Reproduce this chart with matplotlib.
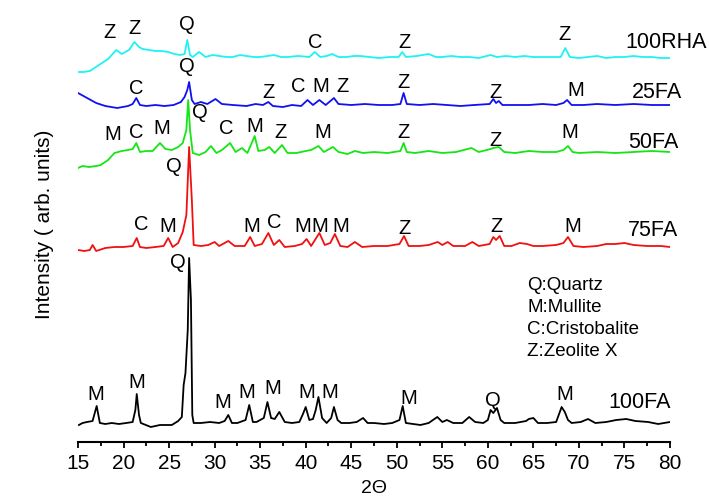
import matplotlib
matplotlib.use("Agg")
import matplotlib.pyplot as plt
from matplotlib.ticker import MultipleLocator

plt.rcParams['font.family'] = ['Liberation Sans', 'DejaVu Sans']

# ---- data (2theta, intensity above each baseline) ----
tt_rha = [15, 15.6, 16.3, 17.3, 18.3, 19.2, 19.8, 20.6, 21.2, 21.7, 22.1, 22.8, 23.5, 24.2,
          24.9, 25.6, 26.2, 26.7, 27.0, 27.3, 27.6, 28.3, 29.0, 29.8, 30.5, 31.3, 32, 32.8,
          33.5, 34.3, 35, 35.8, 36.5, 37.3, 38, 39.2, 40.4, 41.0, 41.6, 42.3, 42.9, 43.6,
          44.5, 45.3, 46, 47, 48, 49.2, 50.2, 50.6, 51.0, 52.2, 53.5, 54.3, 55, 56, 57, 58,
          59, 60.3, 61, 62, 63, 64, 65, 66, 67.2, 68.0, 68.5, 69.0, 70, 71, 72, 73, 74, 75,
          76, 77, 78, 79, 80]
I_rha = [-15, -15, -14, -8, -2, 7, 3, 7, 15, 10, 8, 7, 6, 6,
         5, 3, 2, 3, 17, 2, 0, 5, 0, 2, 1, 0, 0, 2,
         1, 0, 0, 1, 2, 0, 0, 1, 0, 5, 0, 1, 3, 0,
         0, 1, 1, 0, -1, 0, 0, 5, 0, 1, 3, 0, 0, 1, 0, 0,
         -1, 2, 0, 1, 0, 1, 0, 0, 0, 0, 9, 0, -1, 0, 1, -1, 0, 0,
         1, 0, 0, -1, -1]

tt_25 = [15, 16, 17, 18, 19.3, 20.5, 21.0, 21.4, 21.8, 22.5, 23.5, 24.5, 25.5, 26.3, 26.7,
         27.0, 27.2, 27.5, 27.8, 28.5, 29.2, 30.1, 30.8, 32, 33.5, 34.5, 35.3, 35.9, 36.4,
         37.5, 38.5, 39.5, 40.2, 40.8, 41.5, 42.2, 43.1, 43.6, 45, 46.5, 48, 49.5, 50.4,
         50.75, 51.1, 52.5, 54, 55.5, 57, 58.5, 60.2, 60.6, 60.9, 61.2, 61.6, 63, 64.5,
         66, 67.5, 68.3, 68.7, 69.2, 70.5, 72, 74, 76, 78, 80]
I_25 = [12, 7, 2, -1, -3, -1, 1, 7, 0, -1, 0, -1, 0, 3, 8,
        15, 23, 5, 1, 3, 1, 6, 1, 0, -1, 1, 0, 3, -1,
        -2, 0, -1, 5, 0, 5, 0, 7, 1, 0, 1, 0, 0, 1,
        12, 1, 0, 1, 0, -1, 0, 1, 6, 2, 4, 0, 0, 0,
        1, 0, 2, 5, 0, 0, 1, 0, 1, 0, 0]

tt_50 = [15, 15.5, 16.2, 17.0, 17.5, 18.3, 19, 19.8, 20.5, 21.0, 21.4, 21.8, 22.5, 23.2,
         24.0, 24.6, 25.3, 26.0, 26.5, 26.9, 27.1, 27.3, 27.6, 28.3, 29.0, 29.6, 30.2,
         30.8, 31.7, 32.3, 33.0, 33.6, 34.4, 34.8, 35.5, 36.0, 36.6, 37.4, 38.0, 39, 40,
         40.6, 41.4, 42.0, 43.0, 43.6, 44.6, 45.4, 46.3, 47.5, 49, 50.4, 50.75, 51.1, 52,
         53.5, 55, 56.5, 58.2, 59, 60.3, 60.6, 61.2, 61.8, 63, 64.5, 66, 67.5, 68.3, 68.8,
         69.3, 70, 72, 74, 76, 78, 80]
I_50 = [-16, -14, -15, -14, -13, -8, -1, 1, 2, 3, 9, 0, 1, 1,
        9, 3, 2, 5, 9, 22, 52, 22, -1, -3, 0, 6, -1,
        2, 9, 0, 4, -1, 16, 1, 2, 5, -1, 7, -1, -1, 1,
        2, 6, 0, 5, 0, -2, 1, -1, 0, -1, 1, 9, 0, -1,
        1, -1, 0, 4, 0, 3, 4, 5, 0, -1, 1, 0, 0, 2, 6,
        0, -1, 0, -1, 0, 1, 0]

tt_75 = [15, 15.7, 16.3, 16.6, 17.0, 18, 19, 20, 21.0, 21.45, 21.8, 22.5, 23.5, 24.4, 24.9,
         25.4, 26.0, 26.5, 26.9, 27.2, 27.5, 27.7, 28.5, 29.3, 30.0, 30.5, 31.5, 32.2, 33.3,
         33.9, 34.4, 35.2, 35.9, 36.5, 37.1, 37.7, 38.8, 39.6, 40.1, 40.6, 41.5, 42.1, 42.7,
         43.2, 43.8, 44.6, 45.4, 46.2, 47.5, 49, 50.3, 50.8, 51.3, 52.5, 53.5, 54.5, 55.0,
         55.6, 56.2, 57.5, 58.3, 59.0, 60.2, 60.6, 60.9, 61.3, 61.8, 62.6, 63.5, 64.3, 65,
         66, 67.5, 68.3, 68.8, 69.4, 70.5, 72, 73, 74, 75, 76, 77.5, 79, 80]
I_75 = [-4, -5, -4, 1, -5, -2, -1, -1, 0, 8, -1, -2, -1, 0, 8,
        -1, 3, 14, 31, 99, 46, 1, 0, 1, 4, 0, 5, 0, 0,
        9, 0, 2, 13, 1, 6, -1, 0, 2, 7, 0, 13, 1, 3,
        12, 0, -1, 4, -1, 0, 0, 2, 10, 0, 0, 1, 4, 1,
        4, 0, 0, 4, 0, 2, 9, 6, 10, 0, 0, 3, 2, 0,
        0, 1, 3, 9, 0, -1, 0, 2, 2, 3, 1, 0, 0, -1]

tt_100 = [15.1, 15.5, 16.0, 16.6, 17.05, 17.4, 18.0, 18.7, 19.5, 20.3, 21.0, 21.3, 21.45,
          21.7, 21.9, 23.0, 24.0, 25.3, 26.0, 26.4, 26.6, 26.8, 27.05, 27.2, 27.4, 27.55,
          27.7, 28.5, 29.5, 30.5, 31.1, 31.5, 31.9, 32.5, 33.4, 33.8, 34.2, 34.6, 35.4,
          35.8, 36.2, 36.6, 37.1, 37.7, 38.5, 39.3, 39.7, 40.0, 40.4, 40.8, 41.1, 41.4,
          41.8, 42.3, 42.8, 43.1, 43.5, 43.9, 44.8, 45.6, 46.3, 46.8, 47.5, 48.6, 49.5,
          50.3, 50.65, 51.0, 51.8, 52.6, 53.5, 54.45, 55.0, 55.5, 56.2, 57.2, 57.95, 58.6,
          59.5, 60.0, 60.3, 60.6, 61.0, 61.4, 61.8, 63.0, 64.2, 64.5, 65.0, 65.5, 66.5,
          67.5, 68.1, 68.45, 68.8, 69.2, 70.2, 71.0, 71.8, 73.0, 74.1, 75.2, 76.2, 77.6,
          78.7, 80]
I_100 = [-2, 0, 1, 2, 17, 0, -1, 0, -1, 0, 1, 13, 29,
         8, 0, -4, -2, -2, 2, 6, 38, 50, 93, 165, 123, 8,
         0, 0, 1, 0, 2, 8, 0, 0, 3, 18, 1, 1, 5,
         21, 5, 4, 11, 1, 0, 1, 9, 16, 3, 4, 13, 26,
         5, 0, 5, 16, 3, 0, 0, 1, 5, 0, 0, -1, 0,
         3, 17, 0, -1, -2, 0, 6, 1, 3, 0, 0, 6, 1,
         0, 3, 13, 10, 15, 3, 0, 0, 2, 4, 5, 0, 0,
         1, 16, 11, 3, 0, 1, 4, 0, 1, 3, 4, 2, 1,
         -1, 1]

samples = ['100RHA', '25FA', '50FA', '75FA', '100FA']
series = [(tt_rha, I_rha), (tt_25, I_25), (tt_50, I_50), (tt_75, I_75), (tt_100, I_100)]

# phase labels per pattern: (2theta, height, letter)
peak_labels = {
    '100RHA': [(18.5, 410, 'Z'), (21.2, 414, 'Z'), (27.0, 417, 'Q'), (41.0, 400, 'C'),
               (50.8, 400, 'Z'), (68.4, 407, 'Z')],
    '25FA': [(27.0, 375, 'Q'), (21.4, 354, 'C'), (35.9, 350, 'Z'), (39.2, 355, 'C'),
             (41.7, 355, 'M'), (44.0, 355, 'Z'), (50.75, 360, 'Z'), (60.8, 350, 'Z'),
             (69.7, 352, 'M')],
    '50FA': [(18.8, 307, 'M'), (21.4, 310, 'C'), (24.2, 313, 'M'), (28.4, 329, 'Q'),
             (31.25, 314, 'C'), (34.4, 315, 'M'), (37.2, 309, 'Z'), (41.9, 310, 'M'),
             (50.75, 309, 'Z'), (60.8, 302, 'Z'), (69.0, 309, 'M')],
    '75FA': [(21.9, 217, 'C'), (24.8, 215, 'M'), (25.5, 275, 'Q'), (34.1, 215, 'M'),
             (36.6, 220, 'C'), (39.7, 215, 'M'), (41.5, 215, 'M'), (43.9, 215, 'M'),
             (50.8, 214, 'Z'), (60.9, 215, 'Z'), (69.3, 216, 'M')],
    '100FA': [(26.0, 179, 'Q'), (17.0, 47, 'M'), (21.45, 59, 'M'), (30.9, 40, 'M'),
              (33.5, 49, 'M'), (36.4, 54, 'M'), (40.1, 50, 'M'), (42.6, 50, 'M'),
              (51.3, 44, 'M'), (60.6, 42, 'Q'), (68.4, 47, 'M')],
}
legend_lines = ['Q:Quartz', 'M:Mullite', 'C:Cristobalite', 'Z:Zeolite X']

# ---- layout / style ----
offsets = [385, 337, 290, 196, 19]
colors = ['#1ef2f2', '#1010f0', '#14e614', '#f01010', 'black']
name_pos = [(75.05, 399), (75.8, 349), (75.4, 299), (75.4, 212), (73.2, 39)]

fig = plt.figure(figsize=(7.09, 5.04), dpi=100)
ax = fig.add_axes([78 / 709, 62 / 504, 592 / 709, 442 / 504])

for name, (tt, inten), off, col, (nx, ny) in zip(samples, series, offsets, colors, name_pos):
    ax.plot(tt, [v + off for v in inten], color=col, lw=1.3)
    for x, y, s in peak_labels[name]:
        ax.text(x, y, s, ha='center', va='center', fontsize=14.5)
    ax.text(nx, ny, name, ha='left', va='center', fontsize=15.5)

for i, s in enumerate(legend_lines):
    ax.text(64.3, 157 - i * 22.3, s, ha='left', va='center', fontsize=13.5)

ax.set_xlim(15, 80)
ax.set_ylim(0, 442)
ax.xaxis.set_major_locator(MultipleLocator(5))
ax.xaxis.set_minor_locator(MultipleLocator(2.5))
ax.tick_params(axis='x', which='major', direction='out', length=4.5, width=1.3,
               labelsize=15, pad=4)
ax.tick_params(axis='x', which='minor', direction='out', length=3, width=1.3)
ax.set_yticks([])
for side in ['left', 'top', 'right']:
    ax.spines[side].set_visible(False)
ax.spines['bottom'].set_linewidth(1.5)
ax.set_xlabel('2\u0398', fontsize=14, labelpad=5)
fig.text(45 / 709, 1 - 224 / 504, 'Intensity ( arb. units)', rotation=90,
         ha='center', va='center', fontsize=15)

fig.savefig('out.png', dpi=100, facecolor='white')
